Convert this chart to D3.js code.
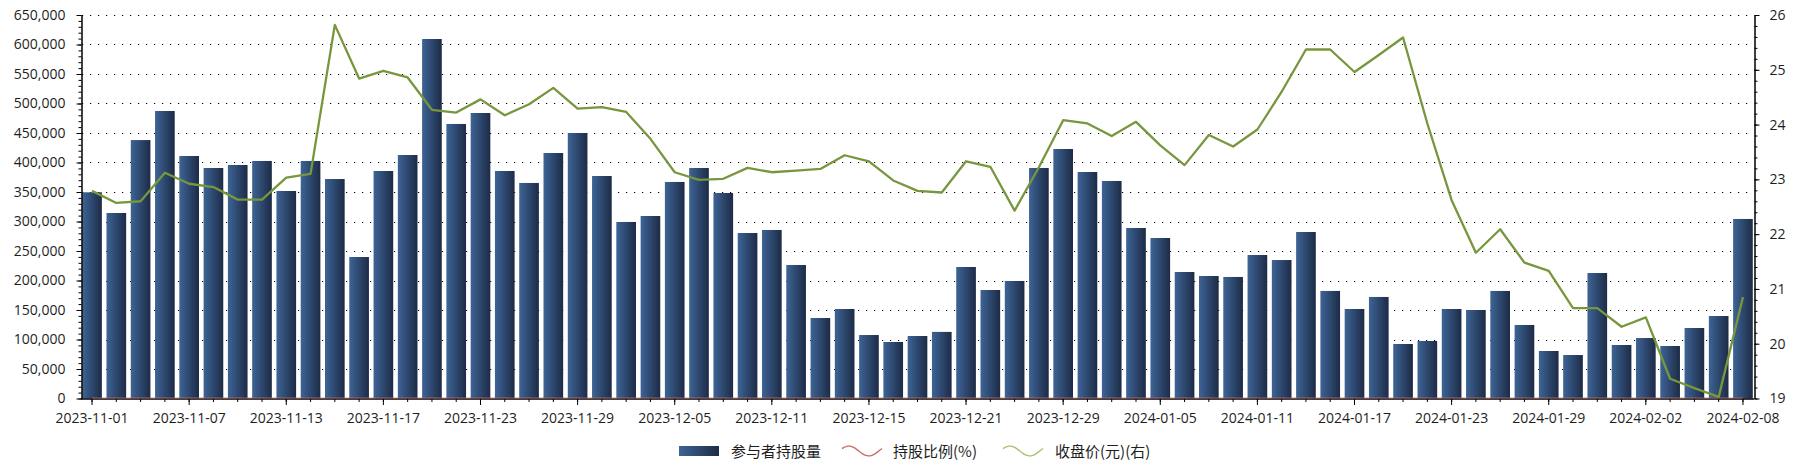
<!DOCTYPE html>
<html>
<head>
<meta charset="utf-8">
<script src="https://cdn.jsdelivr.net/npm/d3@7"></script>
<style>
  body { margin: 0; background: #fff; }
  text { font-family: "Open Sans", "Noto Sans", sans-serif; }
  .legend text { font-family: "Noto Sans CJK SC", "Noto Sans", sans-serif; }
</style>
</head>
<body>
<div id="chart"></div>
<script>
/* ------------------------------------------------------------------
 Data: trading dates, holdings (bars, left axis), holding ratio
 (red line, left axis, sits on the floor) and close price (right axis)
 -------------------------------------------------------------------- */
var dates = [
  "2023-11-01","2023-11-02","2023-11-03","2023-11-06","2023-11-07","2023-11-08","2023-11-09","2023-11-10",
  "2023-11-13","2023-11-14","2023-11-15","2023-11-16","2023-11-17","2023-11-20","2023-11-21","2023-11-22",
  "2023-11-23","2023-11-24","2023-11-27","2023-11-28","2023-11-29","2023-11-30","2023-12-01","2023-12-04",
  "2023-12-05","2023-12-06","2023-12-07","2023-12-08","2023-12-11","2023-12-12","2023-12-13","2023-12-14",
  "2023-12-15","2023-12-18","2023-12-19","2023-12-20","2023-12-21","2023-12-22","2023-12-27","2023-12-28",
  "2023-12-29","2024-01-02","2024-01-03","2024-01-04","2024-01-05","2024-01-08","2024-01-09","2024-01-10",
  "2024-01-11","2024-01-12","2024-01-15","2024-01-16","2024-01-17","2024-01-18","2024-01-19","2024-01-22",
  "2024-01-23","2024-01-24","2024-01-25","2024-01-26","2024-01-29","2024-01-30","2024-01-31","2024-02-01",
  "2024-02-02","2024-02-05","2024-02-06","2024-02-07","2024-02-08"
];

var holdings = [
  349500, 314400, 438000, 487300, 411000, 390700, 395800, 402600, 351700, 402600,
  372000, 239800, 385600, 412700, 609300, 465300, 483900, 385600, 365300, 416100,
  450000, 377100, 299200, 309300, 367000, 390700, 348300, 280500, 285600, 226300,
  136400, 151700, 107600, 95800, 105900, 112900, 222900, 183900, 199200, 390700,
  422900, 383900, 368700, 289000, 272000, 214400, 207600, 206000, 243200, 234700,
  282200, 182300, 151700, 172100, 92400, 97500, 151700, 150000, 182300, 124600,
  80500, 73700, 212700, 90700, 102500, 89000, 119500, 139800, 304300
];

var ratioPct = [
  0.35, 0.31, 0.44, 0.49, 0.41, 0.39, 0.40, 0.40, 0.35, 0.40,
  0.37, 0.24, 0.39, 0.41, 0.61, 0.47, 0.48, 0.39, 0.37, 0.42,
  0.45, 0.38, 0.30, 0.31, 0.37, 0.39, 0.35, 0.28, 0.29, 0.23,
  0.14, 0.15, 0.11, 0.10, 0.11, 0.11, 0.22, 0.18, 0.20, 0.39,
  0.42, 0.38, 0.37, 0.29, 0.27, 0.21, 0.21, 0.21, 0.24, 0.23,
  0.28, 0.18, 0.15, 0.17, 0.09, 0.10, 0.15, 0.15, 0.18, 0.12,
  0.08, 0.07, 0.21, 0.09, 0.10, 0.09, 0.12, 0.14, 0.30
];

var closePrice = [
  22.79, 22.57, 22.60, 23.12, 22.92, 22.86, 22.63, 22.63, 23.03, 23.10,
  25.82, 24.84, 24.98, 24.86, 24.27, 24.22, 24.46, 24.17, 24.37, 24.67,
  24.29, 24.32, 24.23, 23.74, 23.13, 22.99, 23.01, 23.21, 23.13, 23.16,
  23.19, 23.44, 23.33, 22.98, 22.79, 22.76, 23.33, 23.23, 22.43, 23.22,
  24.08, 24.02, 23.79, 24.05, 23.62, 23.26, 23.81, 23.60, 23.91, 24.60,
  25.37, 25.37, 24.96, 25.27, 25.59, 24.02, 22.62, 21.66, 22.09, 21.48,
  21.33, 20.65, 20.65, 20.31, 20.48, 19.36, 19.19, 19.03, 20.85
];

var legendNames = ["参与者持股量", "持股比例(%)", "收盘价(元)(右)"];

var W = 1801, H = 467;
var plotL = 81, plotR = 1754, plotT = 15, plotB = 398.5;

var svg = d3.select("#chart").append("svg")
  .attr("width", W).attr("height", H);

var defs = svg.append("defs");
var grad = defs.append("linearGradient").attr("id", "barGrad")
  .attr("x1", "0%").attr("x2", "100%").attr("y1", "0%").attr("y2", "0%");
grad.append("stop").attr("offset", "0%").attr("stop-color", "#3d6496");
grad.append("stop").attr("offset", "100%").attr("stop-color", "#1d2b46");

var x = d3.scaleBand().domain(dates).range([plotL, plotR])
  .paddingInner(0.19).paddingOuter(0.05);
var yL = d3.scaleLinear().domain([0, 650000]).range([plotB, plotT]);
var yR = d3.scaleLinear().domain([19, 26]).range([plotB, plotT]);

// dotted grid on the left axis ticks
svg.append("g").selectAll("line")
  .data(d3.range(50000, 650001, 50000))
  .enter().append("line")
  .attr("x1", plotL + 1).attr("x2", plotR)
  .attr("y1", function(d){ return Math.round(yL(d)) + 0.5; })
  .attr("y2", function(d){ return Math.round(yL(d)) + 0.5; })
  .attr("stroke", "#000").attr("stroke-width", 1.2)
  .attr("stroke-dasharray", "1.2 6.8");

// bars
svg.append("g").selectAll("rect")
  .data(holdings)
  .enter().append("rect")
  .attr("x", function(d, i){ return x(dates[i]); })
  .attr("width", x.bandwidth())
  .attr("y", function(d){ return yL(d); })
  .attr("height", function(d){ return plotB - yL(d); })
  .attr("fill", "url(#barGrad)");

// left axis
var fmt = d3.format(",");
var gL = svg.append("g").attr("transform", "translate(" + (plotL + 0.5) + ",0)");
gL.call(d3.axisLeft(yL).tickValues(d3.range(0, 650001, 10000)).tickSize(3).tickFormat("").tickSizeOuter(0));
gL.append("g").call(d3.axisLeft(yL).tickValues(d3.range(0, 650001, 50000)).tickSize(5).tickPadding(11).tickFormat(fmt).tickSizeOuter(0));
gL.selectAll(".domain").attr("stroke", "#000");
gL.selectAll("line").attr("stroke", "#000");

// right axis
var gR = svg.append("g").attr("transform", "translate(" + (plotR + 0.5) + ",0)");
gR.call(d3.axisRight(yR).tickValues(d3.range(19, 26.01, 0.2)).tickSize(3).tickFormat("").tickSizeOuter(0));
gR.append("g").call(d3.axisRight(yR).tickValues(d3.range(19, 27, 1)).tickSize(5).tickPadding(10).tickFormat(d3.format("d")).tickSizeOuter(0));
gR.selectAll(".domain").attr("stroke", "#000");
gR.selectAll("line").attr("stroke", "#000");

// bottom axis: minor tick every bar, label every 4th
var labelDates = dates.filter(function(d, i){ return i % 4 === 0; });
var gB = svg.append("g").attr("transform", "translate(0," + (plotB + 0.5) + ")");
gB.call(d3.axisBottom(x).tickSize(3).tickFormat("").tickSizeOuter(0));
gB.append("g").call(d3.axisBottom(x).tickValues(labelDates).tickSize(6).tickPadding(8).tickSizeOuter(0));
gB.selectAll(".domain").attr("stroke", "#000").attr("d", "M" + plotL + ",0H" + plotR);
gB.selectAll("line").attr("stroke", "#000");

svg.selectAll(".tick text")
  .attr("font-family", "'Open Sans', 'Noto Sans', sans-serif")
  .attr("font-size", 14).attr("fill", "#1e1e1e");

// ratio line (near zero on left axis)
var cx = function(i){ return x(dates[i]) + x.bandwidth() / 2; };
svg.append("path")
  .datum(ratioPct)
  .attr("fill", "none").attr("stroke", "#c9706e").attr("stroke-width", 1)
  .attr("opacity", 0.75)
  .attr("d", d3.line().x(function(d, i){ return cx(i); }).y(function(d){ return yL(d) - 0.5; }));

// close price line
svg.append("path")
  .datum(closePrice)
  .attr("fill", "none").attr("stroke", "#77963d").attr("stroke-width", 2.3)
  .attr("stroke-linejoin", "round")
  .attr("d", d3.line().x(function(d, i){ return cx(i); }).y(function(d){ return yR(d); }));

// legend
var lg = svg.append("g").attr("class", "legend");
var ly = 451;
lg.append("rect").attr("x", 679).attr("y", 446).attr("width", 40).attr("height", 10)
  .attr("fill", "url(#barGrad)");

function wave(x0) {
  var pts = d3.range(0, 41, 2).map(function(t){
    return [x0 + t, ly - 5 * Math.sin((t / 40) * 2 * Math.PI + 0.5)];
  });
  return d3.line().curve(d3.curveBasis)(pts);
}
lg.append("path").attr("d", wave(842)).attr("fill", "none")
  .attr("stroke", "#c0504d").attr("stroke-width", 1.3).attr("opacity", 0.85);
lg.append("path").attr("d", wave(1003)).attr("fill", "none")
  .attr("stroke", "#9bbb59").attr("stroke-width", 1.3).attr("opacity", 0.9);

var lx = [731, 893, 1055];
lg.selectAll("text.lbl")
  .data(legendNames)
  .enter().append("text")
  .attr("class", "lbl")
  .attr("x", function(d, i){ return lx[i]; })
  .attr("y", ly + 5.5)
  .attr("font-size", 15)
  .attr("fill", "#1e1e1e")
  .text(function(d){ return d; });
</script>
</body>
</html>
